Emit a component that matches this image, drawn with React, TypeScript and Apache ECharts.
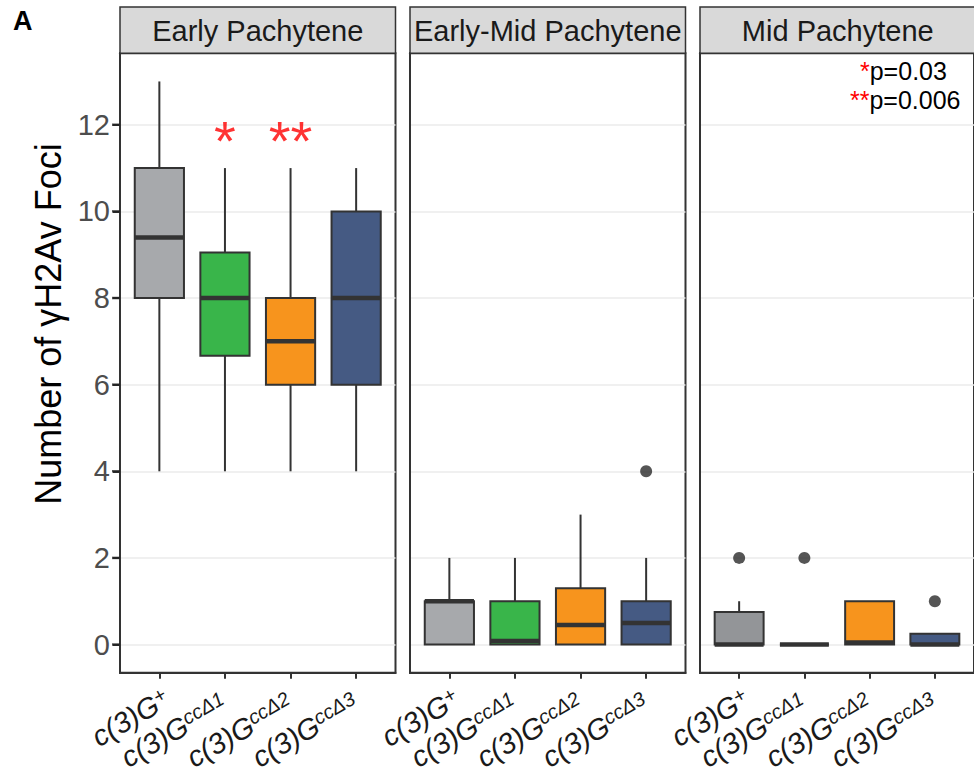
import React, { useEffect, useRef } from 'react';
import * as echarts from 'echarts';

const stages = ['Early Pachytene', 'Early-Mid Pachytene', 'Mid Pachytene'];
const genotypeBase = 'c(3)G';
const genotypeSup = ['+', 'ccΔ1', 'ccΔ2', 'ccΔ3'];
const xPositions = [1, 2, 3, 4];
const boxColorsByStage = [
  ['#a7a9ac', '#39b54a', '#f7941d', '#455a83'],
  ['#a7a9ac', '#39b54a', '#f7941d', '#455a83'],
  ['#939598', '#39b54a', '#f7941d', '#455a83'],
];

// [min, Q1, median, Q3, max]
const earlyStats = [
  [4, 8, 9.4, 11, 13],
  [4, 6.67, 8, 9.05, 11],
  [4, 6, 7, 8, 11],
  [4, 6, 8, 10, 11],
];
const earlyMidStats = [
  [0, 0, 1, 1, 2],
  [0, 0, 0.08, 1, 2],
  [0, 0, 0.45, 1.3, 3],
  [0, 0, 0.5, 1, 2],
];
const midStats = [
  [0, 0, 0, 0.75, 1],
  [0, 0, 0, 0, 0],
  [0, 0, 0.05, 1, 1],
  [0, 0, 0, 0.25, 0.25],
];
const statsByStage = [earlyStats, earlyMidStats, midStats];

// [x position, value]
const earlyOutliers: number[][] = [];
const earlyMidOutliers = [[4, 4]];
const midOutliers = [[1, 2], [2, 2], [4, 1]];
const outliersByStage = [earlyOutliers, earlyMidOutliers, midOutliers];

const sigPoints = [[2, 11.8], [3, 11.8]];
const sigLabels = ['*', '**'];
const pStars = ['*', '**'];
const pTexts = ['p=0.03', 'p=0.006'];

const yTicks = [0, 2, 4, 6, 8, 10, 12];
const yMin = -0.65;
const yMax = 13.65;
const xMin = 0.4;
const xMax = 4.6;

const FONT = '"Liberation Sans", Arial, Helvetica, sans-serif';

const gridLefts = [120, 410, 700];
const gridTop = 53.3;
const gridWidth = 275.5;
const gridHeight = 619.4;

export default function App() {
  const ref = useRef<HTMLDivElement>(null);
  useEffect(() => {
    if (!ref.current) return;
    const chart = echarts.init(ref.current, undefined, { renderer: 'svg' });

    const grids = gridLefts.map((l) => ({
      left: l,
      top: gridTop,
      width: gridWidth,
      height: gridHeight,
      show: true,
      borderColor: '#333333',
      borderWidth: 2,
      backgroundColor: '#ffffff',
      containLabel: false,
    }));

    const xAxes = gridLefts.map((_, i) => ({
      type: 'value',
      gridIndex: i,
      min: xMin,
      max: xMax,
      position: 'bottom',
      axisLine: { show: true, onZero: false, lineStyle: { color: '#333333', width: 2 } },
      splitLine: { show: false },
      axisTick: {
        show: true,
        customValues: xPositions,
        length: 6,
        lineStyle: { color: '#333333', width: 2 },
      },
      axisLabel: {
        show: true,
        customValues: xPositions,
        rotate: 30,
        margin: 11,
        align: 'right',
        verticalAlign: 'top',
        color: '#1a1a1a',
        formatter: (v: number) => {
          const idx = Math.round(v) - 1;
          const sup = genotypeSup[idx];
          const style = sup === '+' ? 'p' : 's';
          return '{m|' + genotypeBase + '}{' + style + '|' + sup + '}';
        },
        rich: {
          m: {
            fontSize: 29,
            fontStyle: 'italic',
            fontFamily: FONT,
            color: '#1a1a1a',
            lineHeight: 30,
          },
          p: {
            fontSize: 20,
            fontStyle: 'italic',
            fontFamily: FONT,
            color: '#1a1a1a',
            verticalAlign: 'top',
            lineHeight: 20,
          },
          s: {
            fontSize: 20,
            fontStyle: 'italic',
            fontFamily: FONT,
            color: '#1a1a1a',
            verticalAlign: 'top',
            lineHeight: 20,
            padding: [0, 9, 0, 0],
          },
        },
      },
    }));

    const yAxes = gridLefts.map((_, i) => ({
      type: 'value',
      gridIndex: i,
      min: yMin,
      max: yMax,
      position: 'left',
      axisLine: { show: true, onZero: false, lineStyle: { color: '#333333', width: 2 } },
      splitLine: { show: true, lineStyle: { color: '#ebebeb', width: 1.5 } },
      axisTick: {
        show: i === 0,
        customValues: yTicks,
        length: 7,
        lineStyle: { color: '#333333', width: 2 },
      },
      axisLabel: {
        show: i === 0,
        customValues: yTicks,
        fontSize: 29,
        fontFamily: FONT,
        color: '#4d4d4d',
        margin: 10,
      },
    }));

    const series: any[] = [];
    statsByStage.forEach((stats, i) => {
      const colors = boxColorsByStage[i];
      series.push({
        type: 'custom',
        xAxisIndex: i,
        yAxisIndex: i,
        encode: { x: 0, y: [1, 2, 3, 4, 5] },
        data: stats.map((s, j) => [xPositions[j], ...s]),
        renderItem: (params: any, api: any) => {
          const x = api.value(0);
          const pMin = api.coord([x, api.value(1)]);
          const pQ1 = api.coord([x, api.value(2)]);
          const pMd = api.coord([x, api.value(3)]);
          const pQ3 = api.coord([x, api.value(4)]);
          const pMx = api.coord([x, api.value(5)]);
          const w = api.size([0.75, 0])[0];
          const cx = pMin[0];
          const fill = colors[params.dataIndex];
          return {
            type: 'group',
            children: [
              {
                type: 'line',
                shape: { x1: cx, y1: pMin[1], x2: cx, y2: pQ1[1] },
                style: { stroke: '#333333', lineWidth: 2 },
              },
              {
                type: 'line',
                shape: { x1: cx, y1: pQ3[1], x2: cx, y2: pMx[1] },
                style: { stroke: '#333333', lineWidth: 2 },
              },
              {
                type: 'rect',
                shape: { x: cx - w / 2, y: pQ3[1], width: w, height: pQ1[1] - pQ3[1] },
                style: { fill, stroke: '#333333', lineWidth: 2 },
              },
              {
                type: 'line',
                shape: { x1: cx - w / 2, y1: pMd[1], x2: cx + w / 2, y2: pMd[1] },
                style: { stroke: '#333333', lineWidth: 4.5 },
              },
            ],
          };
        },
      });
      series.push({
        type: 'scatter',
        xAxisIndex: i,
        yAxisIndex: i,
        symbol: 'circle',
        symbolSize: 12,
        itemStyle: { color: '#2b2b2b' },
        data: outliersByStage[i],
        z: 5,
      });
    });

    // y-axis tick marks on the first panel (drawn as small rect symbols)
    series.push({
      type: 'scatter',
      xAxisIndex: 0,
      yAxisIndex: 0,
      clip: false,
      silent: true,
      symbol: 'rect',
      symbolSize: [8, 2.5],
      symbolOffset: [-4, 0],
      itemStyle: { color: '#222222' },
      data: yTicks.map((v) => [xMin, v]),
      z: 20,
      zlevel: 1,
    });

    series.push({
      type: 'scatter',
      xAxisIndex: 0,
      yAxisIndex: 0,
      symbolSize: 1,
      itemStyle: { color: 'rgba(0,0,0,0)' },
      data: sigPoints,
      label: {
        show: true,
        position: 'inside',
        formatter: (p: any) => sigLabels[p.dataIndex],
        fontSize: 56,
        fontFamily: FONT,
        color: '#ff0000',
        offset: [0, 7],
      },
      z: 6,
    });

    const graphics: any[] = [];
    stages.forEach((s, i) => {
      graphics.push({
        type: 'rect',
        shape: { x: gridLefts[i], y: 7, width: gridWidth, height: gridTop - 7 },
        style: { fill: '#d9d9d9', stroke: '#333333', lineWidth: 1.5 },
        z: 10,
      });
      graphics.push({
        type: 'text',
        x: gridLefts[i] + gridWidth / 2,
        y: (7 + gridTop) / 2 + 1,
        style: {
          text: s,
          fontSize: 29,
          fontFamily: FONT,
          fill: '#1a1a1a',
          align: 'center',
          verticalAlign: 'middle',
          textAlign: 'center',
          textVerticalAlign: 'middle',
        },
        z: 11,
      });
    });
    graphics.push({
      type: 'text',
      x: 13,
      y: 21,
      style: {
        text: 'A',
        fontSize: 27,
        fontWeight: 'bold',
        fontFamily: FONT,
        fill: '#000000',
        align: 'left',
        verticalAlign: 'middle',
        textAlign: 'left',
        textVerticalAlign: 'middle',
      },
    });
    graphics.push({
      type: 'text',
      x: 48,
      y: 324,
      rotation: Math.PI / 2,
      style: {
        text: 'Number of γH2Av Foci',
        fontSize: 36,
        fontFamily: FONT,
        fill: '#000000',
        align: 'center',
        verticalAlign: 'middle',
        textAlign: 'center',
        textVerticalAlign: 'middle',
      },
    });
    const pLineX = [860, 850];
    const pLineY = [71, 100];
    pTexts.forEach((t, i) => {
      graphics.push({
        type: 'text',
        x: pLineX[i],
        y: pLineY[i],
        style: {
          text: '{r|' + pStars[i] + '}{k|' + t + '}',
          align: 'left',
          verticalAlign: 'middle',
          textAlign: 'left',
          textVerticalAlign: 'middle',
          rich: {
            r: {
              fontSize: 25,
              fontFamily: FONT,
              fill: '#ff0000',
              color: '#ff0000',
              lineHeight: 20,
            },
            k: {
              fontSize: 25,
              fontFamily: FONT,
              fill: '#000000',
              color: '#000000',
              lineHeight: 20,
            },
          },
        },
        z: 12,
      });
    });

    chart.setOption({
      animation: false,
      grid: grids,
      xAxis: xAxes,
      yAxis: yAxes,
      series,
      graphic: graphics,
    });

    return () => chart.dispose();
  }, []);

  return (
    <div
      ref={ref}
      style={{ position: 'absolute', left: 0, top: 0, width: 974, height: 778, background: '#ffffff' }}
    />
  );
}
